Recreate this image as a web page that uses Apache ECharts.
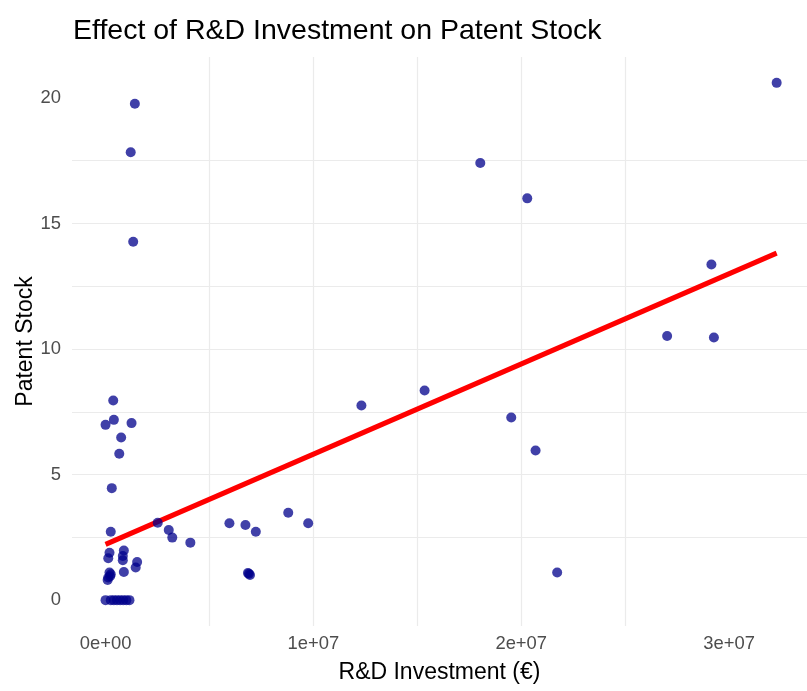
<!DOCTYPE html>
<html>
<head>
<meta charset="utf-8">
<title>Effect of R&amp;D Investment on Patent Stock</title>
<script src="https://cdn.jsdelivr.net/npm/echarts@6/dist/echarts.min.js"></script>
<style>
  html, body { margin: 0; padding: 0; background: #fff; }
  #chart { width: 807px; height: 691px; }
</style>
</head>
<body>
<div id="chart"></div>
<script>
// R&D investment (EUR) per firm
const rdInvestment = [
  370000, 400000, 0, 1250000, 750000, 660000, 300000, 250000,
  190000, 130000, 880000, 830000, 830000, 1520000, 1450000,
  190000, 130000, 250000, 100000, 220000, 880000,
  0, 250000, 400000, 550000, 700000, 850000, 1000000, 1150000,
  1410000, 1210000, 1330000,
  2510000, 3040000, 3210000, 4080000, 5960000, 6730000, 7230000,
  8790000, 9750000, 6850000, 6950000, 6900000,
  12310000, 15350000, 18030000, 20290000, 19520000, 20690000, 21730000,
  32290000, 29150000, 27020000, 29270000
]
// patent stock per firm
const patentStock = [
  7.95, 7.18, 6.98, 7.05, 6.48, 5.83, 4.46, 2.72,
  1.89, 1.67, 1.98, 1.76, 1.59, 1.52, 1.30,
  1.10, 0.90, 1.03, 0.80, 0.95, 1.12,
  0, 0, 0, 0, 0, 0, 0, 0,
  19.77, 17.84, 14.27,
  3.08, 2.79, 2.49, 2.29, 3.06, 2.99, 2.72,
  3.48, 3.06, 1.08, 1.00, 1.05,
  7.75, 8.35, 17.41, 16.00, 7.27, 5.96, 1.10,
  20.60, 13.37, 10.52, 10.46
]
// linear fit end points
const fitX = [0, 32290000]
const fitY = [2.22, 13.82]

const xTickValues = [0, 10000000, 20000000, 30000000]
const xTickLabels = ['0e+00', '1e+07', '2e+07', '3e+07']
const xGridValues = [0, 5000000, 10000000, 15000000, 20000000, 25000000, 30000000]
const yTickValues = [0, 5, 10, 15, 20]
const yTickLabels = ['0', '5', '10', '15', '20']
const yGridValues = [0, 2.5, 5, 7.5, 10, 12.5, 15, 17.5, 20]

const font = '"Liberation Sans", Arial, sans-serif'
const gridColor = '#ebebeb'

const chart = echarts.init(document.getElementById('chart'))

chart.setOption({
  animation: false,
  backgroundColor: '#fff',
  title: {
    text: 'Effect of R&D Investment on Patent Stock',
    left: 68,
    top: 12,
    textStyle: { fontFamily: font, fontSize: 28.5, fontWeight: 'normal', color: '#000' }
  },
  grid: {
    left: 72,
    right: 0,
    top: 57,
    bottom: 65,
    outerBoundsMode: 'none'
  },
  xAxis: {
    type: 'value',
    min: -1614500,
    max: 33750000,
    name: 'R&D Investment (€)',
    nameLocation: 'middle',
    nameGap: 35,
    nameMoveOverlap: false,
    nameTextStyle: { fontFamily: font, fontSize: 23, color: '#000' },
    axisLine: { show: false },
    axisTick: { show: false, customValues: xGridValues },
    axisLabel: {
      customValues: xTickValues,
      margin: 9,
      fontFamily: font,
      fontSize: 18.4,
      color: '#4d4d4d',
      formatter: v => xTickLabels[xTickValues.indexOf(v)]
    },
    splitLine: { show: true, showMinLine: false, showMaxLine: false, lineStyle: { color: gridColor, width: 1.2 } }
  },
  yAxis: {
    type: 'value',
    min: -1.03,
    max: 21.63,
    name: 'Patent Stock',
    nameLocation: 'middle',
    nameGap: 35,
    nameMoveOverlap: false,
    nameTextStyle: { fontFamily: font, fontSize: 23, color: '#000' },
    axisLine: { show: false },
    axisTick: { show: false, customValues: yGridValues },
    axisLabel: {
      customValues: yTickValues,
      margin: 11,
      fontFamily: font,
      fontSize: 18.4,
      color: '#4d4d4d',
      formatter: v => yTickLabels[yTickValues.indexOf(v)]
    },
    splitLine: { show: true, showMinLine: false, showMaxLine: false, lineStyle: { color: gridColor, width: 1.2 } }
  },
  series: [
    {
      name: 'fit',
      type: 'line',
      data: fitX.map((x, i) => [x, fitY[i]]),
      symbol: 'none',
      lineStyle: { color: '#ff0000', width: 5 },
      z: 2
    },
    {
      name: 'firms',
      type: 'scatter',
      data: rdInvestment.map((x, i) => [x, patentStock[i]]),
      symbolSize: 10,
      itemStyle: { color: '#00008b', opacity: 0.75 },
      z: 3
    }
  ]
})
</script>
</body>
</html>
